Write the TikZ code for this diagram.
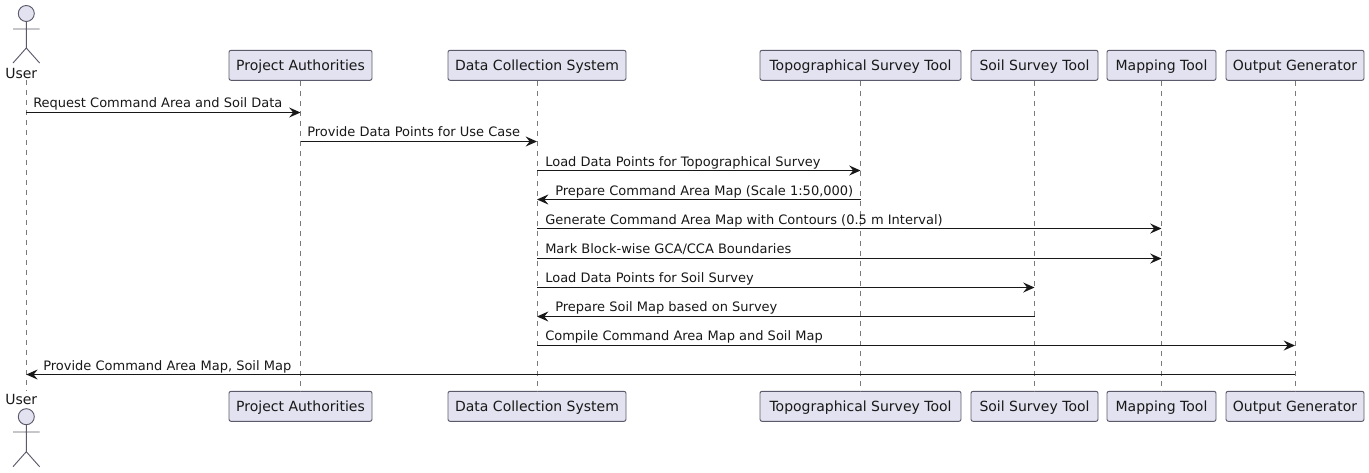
\documentclass[tikz,border=0pt]{standalone}
\usepackage{fontspec}
\setmainfont{DejaVu Sans}
\usetikzlibrary{arrows.meta}
\definecolor{partfill}{HTML}{E2E2F0}
\definecolor{partline}{HTML}{5A5A6A}
\definecolor{lifeline}{HTML}{7A7A7A}
\definecolor{ink}{HTML}{181818}
\tikzset{
  x=0.75pt,y=-0.75pt,
  part/.style={draw=partline,fill=partfill,rounded corners=1.5pt,line width=0.7pt,minimum height=22.5pt,inner sep=0pt,text=ink,text height=9.5pt,text depth=2pt,font=\fontsize{10.5pt}{12pt}\selectfont},
  actorname/.style={anchor=base,inner sep=0pt,text=ink,font=\fontsize{10.5pt}{12pt}\selectfont},
  life/.style={draw=lifeline,line width=0.6pt,dash pattern=on 3.75pt off 3.75pt},
  msg/.style={draw=ink,line width=0.8pt,-{Stealth[length=8.5pt,width=7.5pt,inset=3pt]}},
  msglabel/.style={anchor=base west,inner sep=0pt,text=ink,font=\fontsize{9.75pt}{12pt}\selectfont},
  stick/.style={draw=partline,line width=0.7pt},
  head/.style={draw=partline,fill=partfill,line width=0.7pt}
}
\begin{document}
\begin{tikzpicture}
\useasboundingbox (0,0) rectangle (1369,472);
% top row
\node[actorname] (user) at (21.3,78) {User};
\coordinate (ut) at (26.3,80);
\node[part,minimum width=107.25pt] (pa) at (300.5,65.3) {Project Authorities};
\node[part,minimum width=133.5pt] (dc) at (537,65.3) {Data Collection System};
\node[part,minimum width=150.75pt] (ts) at (860.5,65.3) {Topographical Survey Tool};
\node[part,minimum width=95.25pt] (ss) at (1034.5,65.3) {Soil Survey Tool};
\node[part,minimum width=81.75pt] (mt) at (1161.5,65.3) {Mapping Tool};
\node[part,minimum width=103.5pt] (og) at (1295,65.3) {Output Generator};
% bottom row
\node[actorname] (userb) at (21.3,404.5) {User};
\coordinate (ub) at (26.3,391);
\node[part,minimum width=107.25pt] (pab) at (300.5,406.3) {Project Authorities};
\node[part,minimum width=133.5pt] (dcb) at (537,406.3) {Data Collection System};
\node[part,minimum width=150.75pt] (tsb) at (860.5,406.3) {Topographical Survey Tool};
\node[part,minimum width=95.25pt] (ssb) at (1034.5,406.3) {Soil Survey Tool};
\node[part,minimum width=81.75pt] (mtb) at (1161.5,406.3) {Mapping Tool};
\node[part,minimum width=103.5pt] (ogb) at (1295,406.3) {Output Generator};
% lifelines
\draw[life] (ut) -- (ub);
\draw[life] (pa.south) -- (pab.north);
\draw[life] (dc.south) -- (dcb.north);
\draw[life] (ts.south) -- (tsb.north);
\draw[life] (ss.south) -- (ssb.north);
\draw[life] (mt.south) -- (mtb.north);
\draw[life] (og.south) -- (ogb.north);
% actors
\draw[head] (26.3,13.5) circle (6pt);
\draw[stick] (26.3,21.5) -- (26.3,48) (13,29) -- (39.6,29) (13,63) -- (26.3,48) -- (39.6,63);
\draw[head] (26.3,416.7) circle (6pt);
\draw[stick] (26.3,424.7) -- (26.3,451.7) (13,432) -- (39.6,432) (13,466.7) -- (26.3,451.7) -- (39.6,466.7);
% message levels
\coordinate (m1) at (0,112.5);
\coordinate (m2) at (0,141.5);
\coordinate (m3) at (0,170.5);
\coordinate (m4) at (0,199.5);
\coordinate (m5) at (0,228.5);
\coordinate (m6) at (0,258.5);
\coordinate (m7) at (0,287.5);
\coordinate (m8) at (0,316.5);
\coordinate (m9) at (0,345.5);
\coordinate (m10) at (0,374.5);
% messages
\draw[msg] (ut |- m1) -- (pa |- m1);
\draw[msg] (pa |- m2) -- (dc |- m2);
\draw[msg] (dc |- m3) -- (ts |- m3);
\draw[msg] (ts |- m4) -- (dc |- m4);
\draw[msg] (dc |- m5) -- (mt |- m5);
\draw[msg] (dc |- m6) -- (mt |- m6);
\draw[msg] (dc |- m7) -- (ss |- m7);
\draw[msg] (ss |- m8) -- (dc |- m8);
\draw[msg] (dc |- m9) -- (og |- m9);
\draw[msg] (og |- m10) -- (ut |- m10);
% labels
\node[msglabel] (l1) at (33,107) {Request Command Area and Soil Data};
\node[msglabel] (l2) at (307,136) {Provide Data Points for Use Case};
\node[msglabel] (l3) at (545,166) {Load Data Points for Topographical Survey};
\node[msglabel] (l4) at (555,195) {Prepare Command Area Map (Scale 1:50,000)};
\node[msglabel] (l5) at (545,224) {Generate Command Area Map with Contours (0.5 m Interval)};
\node[msglabel] (l6) at (545,253) {Mark Block-wise GCA/CCA Boundaries};
\node[msglabel] (l7) at (545,282) {Load Data Points for Soil Survey};
\node[msglabel] (l8) at (555,311) {Prepare Soil Map based on Survey};
\node[msglabel] (l9) at (545,340) {Compile Command Area Map and Soil Map};
\node[msglabel] (l10) at (43,370) {Provide Command Area Map, Soil Map};
\end{tikzpicture}
\end{document}
